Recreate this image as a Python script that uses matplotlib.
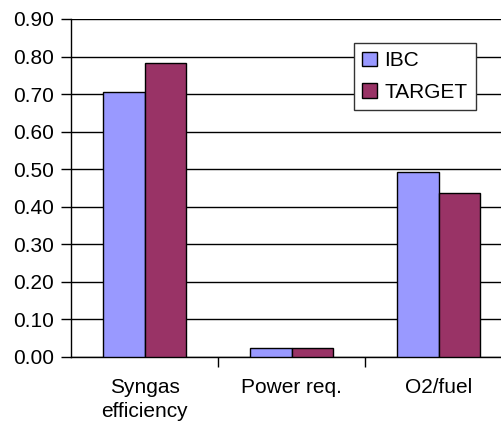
import numpy as np
import matplotlib.pyplot as plt

categories = ['Syngas\nefficiency', 'Power req.', 'O2/fuel']
ibc = [0.705, 0.024, 0.492]
target = [0.782, 0.024, 0.437]

plt.rcParams['font.family'] = ['Liberation Sans', 'DejaVu Sans']

fig = plt.figure(figsize=(5.02, 4.30), dpi=100)
ax = fig.add_axes([71 / 502, 73 / 430, 1 - 71 / 502, 338 / 430])

x = np.arange(len(categories))
w = 0.285
ax.bar(x - w / 2, ibc, w, color='#9999FF', edgecolor='black', linewidth=1, label='IBC', zorder=3)
ax.bar(x + w / 2, target, w, color='#993366', edgecolor='black', linewidth=1, label='TARGET', zorder=3)

ax.set_ylim(0, 0.9)
ax.set_yticks(np.arange(0, 0.91, 0.1))
ax.set_yticklabels([f'{v:.2f}' for v in np.arange(0, 0.91, 0.1)])
ax.set_xlim(-0.5, -0.5 + 3 * (502 - 71) / 441)
ax.set_xticks(x)
ax.set_xticklabels(categories, linespacing=1.35)
ax.set_xticks([0.5, 1.5], minor=True)

ax.grid(axis='y', color='black', linewidth=1, zorder=0)
ax.tick_params(axis='y', length=7, width=1, pad=5, labelsize=15)
ax.tick_params(axis='x', which='major', length=0, pad=15, labelsize=15)
ax.tick_params(axis='x', which='minor', length=7, width=1)

for s in ['top', 'right']:
    ax.spines[s].set_visible(False)
ax.spines['left'].set_linewidth(1)
ax.spines['bottom'].set_linewidth(1)

leg = ax.legend(loc='upper left', bbox_to_anchor=(354 / 502, 1 - 43 / 430),
                bbox_transform=fig.transFigure, borderaxespad=0, fontsize=15,
                fancybox=False, framealpha=1, edgecolor='#333333',
                handlelength=0.7, handleheight=0.7, handletextpad=0.35,
                labelspacing=0.6, borderpad=0.4)
leg.get_frame().set_linewidth(1)

fig.savefig('out.png', dpi=100)
